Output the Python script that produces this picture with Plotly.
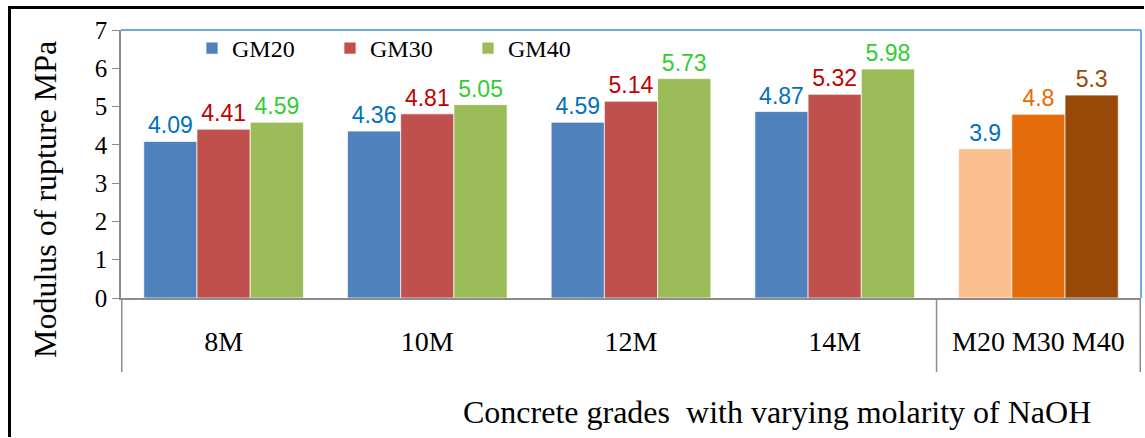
import plotly.graph_objects as go

categories = ["8M", "10M", "12M", "14M", "M20 M30 M40"]
series_names = ["GM20", "GM30", "GM40"]
gm20 = [4.09, 4.36, 4.59, 4.87]
gm30 = [4.41, 4.81, 5.14, 5.32]
gm40 = [4.59, 5.05, 5.73, 5.98]
control_values = [3.9, 4.8, 5.3]  # M20, M30, M40

bar_colors = ["#4F81BD", "#C0504D", "#9BBB59"]
control_colors = ["#FAC090", "#E46C0A", "#984807"]
label_colors = ["#0070C0", "#C00000", "#33CC33"]
control_label_colors = ["#0070C0", "#E46C0A", "#984807"]

serif = "Liberation Serif"
sans = "Liberation Sans"

fig = go.Figure()
for i, (name, vals) in enumerate(zip(series_names, [gm20, gm30, gm40])):
    y = vals + [control_values[i]]
    colors = [bar_colors[i]] * len(vals) + [control_colors[i]]
    tcolors = [label_colors[i]] * len(vals) + [control_label_colors[i]]
    fig.add_trace(go.Bar(
        name=name, x=categories, y=y,
        marker=dict(color=colors, line=dict(color="rgba(255,255,255,0.7)", width=1)),
        text=[str(v) for v in y], textposition="outside",
        textfont=dict(family=sans, size=23, color=tcolors),
        cliponaxis=False,
    ))

L, R, T, B = 121, 4, 30, 140
W, H = 1145, 438
pw, ph = W - L - R, H - T - B

def px_x(px):
    return (px - L) / pw

def px_y(py):
    return (H - B - py) / ph

shapes = []
for xv in [-0.5, 3.5, 4.5]:
    shapes.append(dict(type="line", xref="x", yref="paper", x0=xv, x1=xv,
                       y0=0, y1=px_y(372), line=dict(color="#8C8C8C", width=1.5)))
shapes.append(dict(type="line", xref="paper", yref="paper", x0=0, x1=1, y0=1, y1=1,
                   line=dict(color="#3A8FD8", width=1.5)))
shapes.append(dict(type="line", xref="paper", yref="paper", x0=1, x1=1, y0=0, y1=1,
                   line=dict(color="#3A8FD8", width=1.5)))
# outer black frame (left and top)
shapes.append(dict(type="rect", xref="paper", yref="paper",
                   x0=px_x(8), x1=px_x(1144), y0=px_y(9), y1=px_y(6),
                   line=dict(width=0), fillcolor="black"))
shapes.append(dict(type="rect", xref="paper", yref="paper",
                   x0=px_x(8), x1=px_x(11), y0=px_y(437), y1=px_y(6),
                   line=dict(width=0), fillcolor="black"))

annotations = [
    dict(text="Modulus of rupture MPa", xref="paper", yref="paper",
         x=px_x(45), y=px_y(200), xanchor="center", yanchor="middle",
         textangle=-90, showarrow=False, font=dict(family=serif, size=32, color="black")),
    dict(text="Concrete grades&nbsp; with varying molarity of NaOH", xref="paper", yref="paper",
         x=px_x(777), y=px_y(412), xanchor="center", yanchor="middle",
         showarrow=False, font=dict(family=serif, size=32, color="black")),
    # top frame band drawn in the upper info layer
    dict(text="&nbsp;", xref="paper", yref="paper", x=px_x(8), y=px_y(6),
         xanchor="left", yanchor="top", showarrow=False, width=1136, height=3,
         bgcolor="black", borderpad=0, borderwidth=0, font=dict(size=1, color="black")),
]

fig.update_layout(
    width=W, height=H,
    margin=dict(l=L, r=R, t=T, b=B),
    paper_bgcolor="white", plot_bgcolor="white",
    barmode="group", bargap=0.216, bargroupgap=0,
    showlegend=True,
    legend=dict(orientation="h", x=px_x(192), y=px_y(26), xanchor="left", yanchor="top",
                font=dict(family=serif, size=24, color="black"),
                bgcolor="rgba(0,0,0,0)", entrywidth=93, itemwidth=30),
    xaxis=dict(type="category", showline=True, linecolor="#8C8C8C", linewidth=2,
               ticks="", showgrid=False, zeroline=False,
               tickfont=dict(family=serif, size=28, color="black"),
               ticklabelstandoff=17),
    yaxis=dict(range=[0, 7], dtick=1, showline=True, linecolor="#8C8C8C", linewidth=1.5,
               ticks="outside", ticklen=7, tickcolor="#8C8C8C", showgrid=False, zeroline=False,
               tickfont=dict(family=serif, size=25, color="black")),
    shapes=shapes, annotations=annotations,
    font=dict(family=serif),
)

fig.write_html("out.html", config={"displayModeBar": False},
               post_script="document.body.style.margin='0';")
